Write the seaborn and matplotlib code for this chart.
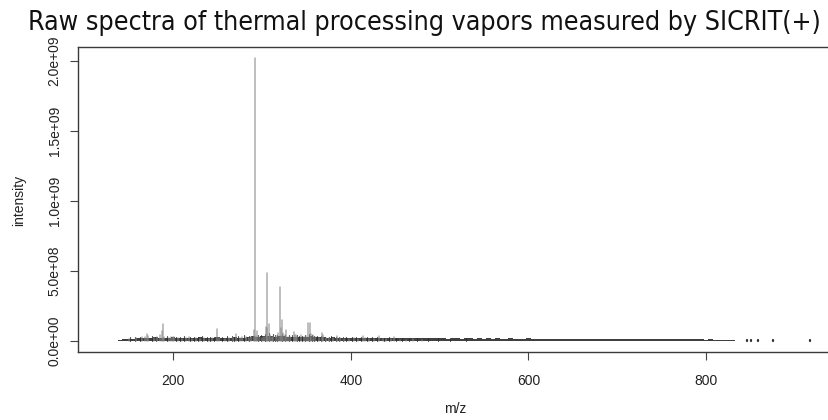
import numpy as np
import pandas as pd
import matplotlib
matplotlib.use("Agg")
import matplotlib.pyplot as plt
import seaborn as sns

# Prominent peaks: m/z and intensity (x 1e8)
peak_mz = [150, 158, 165, 168, 170.8, 172, 178, 182, 185, 187, 188.8, 190,
           195, 198, 199.5, 201, 205, 210, 214, 217.6, 221, 226, 230, 235,
           240, 244, 249.1, 252, 258, 263, 267, 271.2, 275, 277.5, 282, 285,
           288, 290.6, 291.9, 293, 294.7, 297, 300, 302, 304.4, 305.5, 306.2,
           307.5, 309, 311, 313, 316, 318.1, 319.9, 321, 322.9, 324, 325.5,
           327.3, 329, 332, 335.6, 337, 338.6, 340, 343.9, 347, 350, 352.4,
           354.3, 355.5, 357.3, 360, 364, 367.4, 369, 372, 376, 380, 384.6,
           388, 392, 398, 404, 408, 413.4, 416, 420, 426, 432.2, 436, 440,
           445, 449, 455, 462, 470, 480]
peak_int = [0.15, 0.2, 0.25, 0.3, 0.5, 0.35, 0.2, 0.3, 0.4, 0.7, 1.24, 0.3,
            0.2, 0.3, 0.3, 0.25, 0.2, 0.15, 0.2, 0.3, 0.15, 0.2, 0.15, 0.2,
            0.15, 0.2, 0.83, 0.2, 0.15, 0.2, 0.2, 0.48, 0.2, 0.3, 0.3, 0.2,
            0.25, 0.78, 20.2, 0.35, 0.7, 0.3, 0.2, 0.25, 1.0, 0.9, 4.87,
            1.2, 0.45, 0.3, 0.25, 0.35, 0.55, 3.88, 0.9, 1.5, 0.6, 0.4,
            0.8, 0.3, 0.3, 0.65, 0.4, 0.45, 0.3, 0.4, 0.25, 0.35, 1.26,
            1.25, 0.5, 0.45, 0.25, 0.2, 0.6, 0.4, 0.2, 0.2, 0.2, 0.35,
            0.2, 0.15, 0.15, 0.2, 0.15, 0.35, 0.2, 0.15, 0.15, 0.35, 0.15, 0.15,
            0.15, 0.25, 0.1, 0.1, 0.12, 0.1]

# Small dense spikes sitting on the envelope (x 1e6)
spike_mz = [152, 157, 163, 176, 181, 193, 203, 208, 212, 219, 224, 228, 233,
            238, 242, 246, 255, 261, 266, 269, 273, 280, 286, 296, 299, 303,
            308, 312, 315, 317, 323, 326, 331, 334, 339, 342, 345, 349, 353,
            356, 359, 362, 366, 371, 375, 378, 383, 387, 391, 395, 401, 406,
            411, 418, 424, 430, 437, 443, 451, 458, 466, 474, 487, 498, 512,
            530]
spike_int = [28, 32, 30, 35, 30, 38, 30, 28, 34, 32, 28, 30, 33,
             28, 30, 32, 30, 34, 36, 32, 38, 40, 36, 45, 40, 50,
             55, 48, 42, 45, 52, 46, 44, 40, 42, 38, 36, 40, 48,
             44, 36, 34, 38, 32, 30, 34, 30, 28, 30, 26, 28, 30,
             26, 28, 25, 28, 24, 26, 24, 22, 22, 20, 20, 20, 18,
             18]

# Low-level signal, 5 m/z bins from 140 to 830 (x 1e6)
floor_mz = list(range(140, 831, 5))
floor_int = [10, 14, 17, 16, 21, 20, 19, 23, 26, 21, 24, 22,
             25, 21, 20, 24, 22, 21, 25, 22, 21, 24, 30, 22,
             21, 24, 26, 22, 24, 30, 33, 28, 34, 38, 36, 32,
             38, 34, 32, 30, 28, 30, 26, 33, 28, 26, 25, 24,
             26, 22, 24, 21, 22, 21, 24, 22, 20, 21, 22, 20,
             21, 19, 20, 19, 18, 19, 20, 18, 19, 18, 19, 18,
             19, 18, 17, 19, 18, 17, 18, 19, 17, 18, 17, 18,
             17, 18, 17, 16, 18, 17, 16, 17, 18, 16, 17, 16,
             17, 16, 15, 16, 17, 15, 16, 14, 16, 15, 16, 15,
             15, 16, 14, 15, 16, 14, 15, 14, 15, 13, 15, 14,
             14, 13, 14, 15, 13, 14, 13, 14, 13, 12, 13, 12,
             10, 11, 9, 10, 8, 8, 6]

# Isolated traces outside the main envelope (x 1e6)
tail_mz = [125, 846, 851, 858, 875, 917]
tail_int = [3, 5, 5, 9, 9, 5]

x_ticks = [200, 400, 600, 800]
y_ticks = [0, 5e8, 1e9, 1.5e9, 2e9]
y_tick_labels = ["0.0e+00", "5.0e+08", "1.0e+09", "1.5e+09", "2.0e+09"]

title = "Raw spectra of thermal processing vapors measured by SICRIT(+)"

sns.set_theme(style="ticks")
plt.rcParams["font.family"] = ["Liberation Sans", "DejaVu Sans"]

W, H = 829, 420
fig = plt.figure(figsize=(W / 100, H / 100), dpi=100)
fig.patch.set_facecolor("white")
# plot region runs past the right edge of the canvas
ax = fig.add_axes([78 / W, 1 - 352 / H, (850 - 78) / W, (352 - 47) / H])
ax.set_facecolor("white")


def stick_frame(mz, inten, scale):
    rows = []
    for i, (m, v) in enumerate(zip(mz, inten)):
        rows.append((i, m, 0.0))
        rows.append((i, m, v * scale))
    return pd.DataFrame(rows, columns=["peak", "mz", "intensity"])


# dense low-level envelope
edges = [m - 2.5 for m in floor_mz] + [floor_mz[-1] + 2.5]
sns.histplot(x=floor_mz, weights=np.array(floor_int) * 1e6, bins=edges,
             element="step", fill=True, color="#1e1e1e", alpha=0.85,
             linewidth=0, ax=ax)

# spectrum sticks
sns.lineplot(data=stick_frame(spike_mz, spike_int, 1e6), x="mz", y="intensity",
             units="peak", estimator=None, sort=False, color="#2a2a2a",
             lw=0.8, alpha=0.8, ax=ax, legend=False)
sns.lineplot(data=stick_frame(peak_mz, peak_int, 1e8), x="mz", y="intensity",
             units="peak", estimator=None, sort=False, color="#8a8a8a",
             lw=1.1, alpha=0.7, ax=ax, legend=False)
sns.lineplot(data=stick_frame(tail_mz, tail_int, 1e6), x="mz", y="intensity",
             units="peak", estimator=None, sort=False, color="#303030",
             lw=1.6, ax=ax, legend=False)

ax.set_xlim(93, 961.9)
ax.set_ylim(-0.0786e9, 2.1e9)
ax.set_xticks(x_ticks)
ax.set_xticklabels([str(t) for t in x_ticks])
ax.set_yticks(y_ticks)
ax.set_yticklabels(y_tick_labels, rotation=90, va="center")
ax.tick_params(axis="both", direction="out", length=5.8, width=0.8,
               color="#444444", labelsize=10, labelcolor="#222222")
ax.tick_params(axis="x", pad=10)
ax.tick_params(axis="y", pad=6)
ax.set_xlabel("")
ax.set_ylabel("")
ax.grid(False)
for name, s in ax.spines.items():
    s.set_visible(name != "right")
    s.set_color("#3a3a3a")
    s.set_linewidth(1.0)

fig.text(19 / W, 1 - 200 / H, "intensity", rotation=90, ha="center",
         va="center", fontsize=10, color="#222222")
fig.text(455 / W, 1 - 409 / H, "m/z", ha="center", va="center",
         fontsize=10, color="#222222")

t = fig.text(28 / W, 1 - 23 / H, title, ha="left", va="center",
             fontsize=18, family="DejaVu Sans", fontstretch="condensed",
             color="#111111")
fig.canvas.draw()
w = t.get_window_extent().width
t.set_fontsize(18 * 794 / w)

fig.savefig("out.png", dpi=100, facecolor="white")
